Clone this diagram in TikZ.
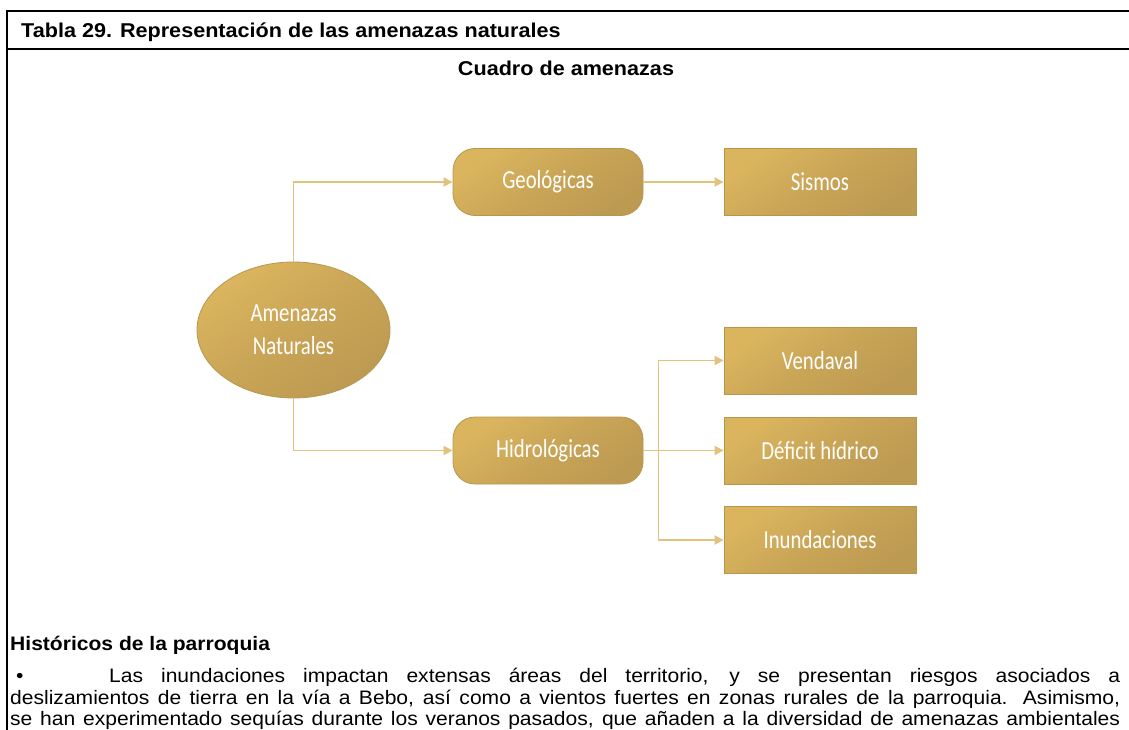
\documentclass[tikz,border=0pt]{standalone}
\usepackage{fontspec}
\setmainfont{Liberation Sans}[FakeStretch=1.08]
\newfontfamily\headfont{Liberation Sans}[FakeStretch=1.08]
\newfontfamily\nodefont{Carlito}[FakeStretch=0.8]
\usetikzlibrary{shapes.geometric,arrows.meta,calc}
\definecolor{goldA}{HTML}{DBB55E}
\definecolor{goldB}{HTML}{BD9A52}
\definecolor{goldEdge}{HTML}{B8964C}
\definecolor{goldLine}{HTML}{E2C27C}
\tikzset{
  goldshade/.style={top color=goldA, bottom color=goldB, middle color=goldB!60!goldA, shading angle=35, draw=goldEdge, line width=0.8pt, text=white, font=\nodefont\fontsize{26}{33}\selectfont, inner sep=0pt, align=center},
  roundbox/.style={goldshade, rounded corners=22pt, minimum width=190pt, minimum height=67pt},
  sqbox/.style={goldshade, minimum width=192pt, minimum height=67pt},
  ovalbox/.style={goldshade, ellipse, minimum width=193pt, minimum height=136pt},
  conn/.style={draw=goldLine, line width=1.8pt, -{Triangle[length=9pt,width=9pt]}},
  frame/.style={line width=2.2pt, black},
  headtxt/.style={inner sep=0pt, anchor=base west, font=\headfont\bfseries\fontsize{20}{23}\selectfont},
  txt/.style={inner sep=0pt, anchor=base west, font=\fontsize{19.5}{23}\selectfont}
}
\begin{document}
\begin{tikzpicture}[x=1pt,y=-1pt]
\useasboundingbox (0,0) rectangle (1129,730);
\fill[white] (0,0) rectangle (1129,730);
% table frame
\draw[frame] (7,731) -- (7,11) -- (1130,11);
\draw[frame] (7,49) -- (1130,49);
\node[headtxt] (title) at (21,38) {Tabla 29. Representación de las amenazas naturales};
\node[headtxt, anchor=base] (cuadro) at (566,76) {Cuadro de amenazas};
% diagram nodes
\node[ovalbox] (amen) at (293.5,330) {Amenazas\\Naturales};
\node[roundbox] (geo) at (548,182) {Geológicas};
\node[roundbox] (hid) at (548,450.5) {Hidrológicas};
\node[sqbox] (sis) at (820,182) {Sismos};
\node[sqbox] (ven) at (820,360.5) {Vendaval};
\node[sqbox] (def) at (820,450.5) {Déficit hídrico};
\node[sqbox] (inu) at (820,540) {Inundaciones};
% connectors
\draw[conn] (amen.north) |- (geo.west);
\draw[conn] (amen.south) |- (hid.west);
\draw[conn] (geo.east) -- (sis.west);
\coordinate (br) at ($(hid.east)+(15,0)$);
\draw[conn] (hid.east) -- (def.west);
\draw[conn] (br) |- (ven.west);
\draw[conn] (br) |- (inu.west);
% text below
\node[txt, font=\bfseries\fontsize{19.5}{23}\selectfont] (hist) at (10,650) {Históricos de la parroquia};
\node[txt] (l1) at (10,682.5) {\makebox[1110pt][s]{\makebox[99pt][l]{\hspace*{6pt}\textbullet}Las inundaciones impactan extensas áreas del territorio, y se presentan riesgos asociados a}};
\node[txt] (l2) at (10,704) {\makebox[1110pt][s]{deslizamientos de tierra en la vía a Bebo, así como a vientos fuertes en zonas rurales de la parroquia. Asimismo,}};
\node[txt] (l3) at (10,725.5) {\makebox[1110pt][s]{se han experimentado sequías durante los veranos pasados, que añaden a la diversidad de amenazas ambientales}};
\end{tikzpicture}
\end{document}
